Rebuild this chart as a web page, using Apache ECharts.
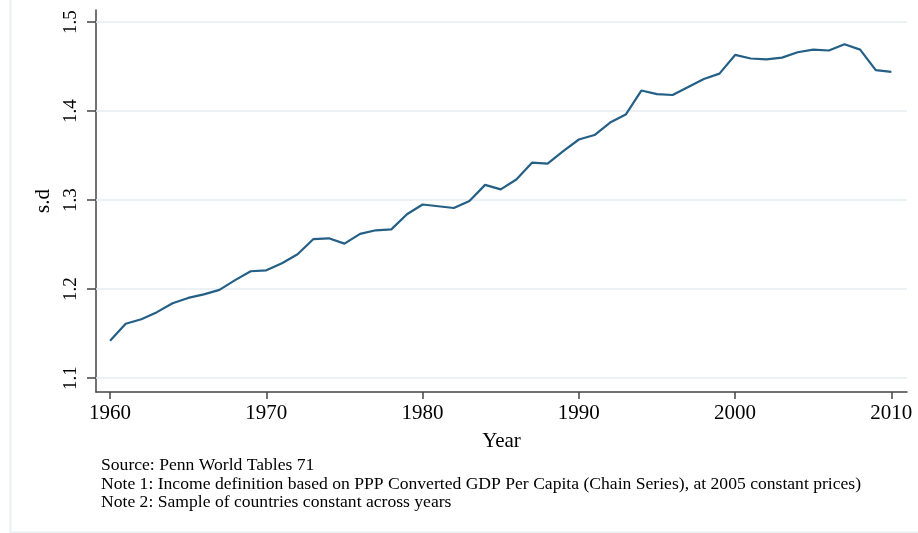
<!DOCTYPE html>
<html>
<head>
<meta charset="utf-8">
<script src="https://cdn.jsdelivr.net/npm/echarts@6/dist/echarts.min.js"></script>
<style>
  html, body { margin: 0; padding: 0; background: #fff; }
  #chart { width: 918px; height: 533px; }
</style>
</head>
<body>
<div id="chart"></div>
<script>
  // values
  var years = [1960, 1961, 1962, 1963, 1964, 1965, 1966, 1967, 1968, 1969,
    1970, 1971, 1972, 1973, 1974, 1975, 1976, 1977, 1978, 1979,
    1980, 1981, 1982, 1983, 1984, 1985, 1986, 1987, 1988, 1989,
    1990, 1991, 1992, 1993, 1994, 1995, 1996, 1997, 1998, 1999,
    2000, 2001, 2002, 2003, 2004, 2005, 2006, 2007, 2008, 2009, 2010];
  var sdValues = [1.142, 1.161, 1.166, 1.174, 1.184, 1.190, 1.194, 1.199, 1.210, 1.220,
    1.221, 1.229, 1.239, 1.256, 1.257, 1.251, 1.262, 1.266, 1.267, 1.284,
    1.295, 1.293, 1.291, 1.299, 1.317, 1.312, 1.323, 1.342, 1.341, 1.355,
    1.368, 1.373, 1.387, 1.396, 1.423, 1.419, 1.418, 1.427, 1.436, 1.442,
    1.463, 1.459, 1.458, 1.460, 1.466, 1.469, 1.468, 1.475, 1.469, 1.446, 1.444];
  var xTicks = [1960, 1970, 1980, 1990, 2000, 2010];
  var yTicks = [1.1, 1.2, 1.3, 1.4, 1.5];
  var notes = [
    'Source: Penn World Tables 71',
    'Note 1: Income definition based on PPP Converted GDP Per Capita (Chain Series), at 2005 constant prices)',
    'Note 2: Sample of countries constant across years'
  ];

  var serif = '"Liberation Serif", "DejaVu Serif", serif';
  var axisColor = '#444';

  var lineData = years.map(function (y, i) { return [y, sdValues[i]]; });

  // the source picture is a bit wider than tall, so the notes get a little horizontal stretch
  var noteTexts = notes.map(function (t, i) {
    return {
      type: 'text',
      x: 101,
      y: 458 + i * 18.5,
      scaleX: 1.1,
      style: { text: t, font: '16px ' + serif, fill: '#000' }
    };
  });

  var chart = echarts.init(document.getElementById('chart'));
  chart.setOption({
    animation: false,
    backgroundColor: '#fff',
    grid: { left: 96, right: 11, top: 10, bottom: 141 },
    xAxis: {
      type: 'value',
      min: 1959.1,
      max: 2011,
      name: 'Year',
      nameLocation: 'middle',
      nameGap: 39,
      nameTextStyle: { fontFamily: serif, fontSize: 21, color: '#000' },
      axisLine: { lineStyle: { color: axisColor, width: 1.5 } },
      axisTick: { customValues: xTicks, length: 7, lineStyle: { color: axisColor, width: 1.5 } },
      axisLabel: {
        customValues: xTicks,
        margin: 11,
        fontFamily: serif,
        fontSize: 21,
        color: '#000',
        formatter: function (v) { return String(v); }
      },
      splitLine: { show: false }
    },
    yAxis: {
      type: 'value',
      min: 1.0843,
      max: 1.5135,
      name: 's.d',
      nameLocation: 'middle',
      nameRotate: 90,
      nameGap: 38,
      nameTextStyle: { fontFamily: serif, fontSize: 21, color: '#000' },
      axisLine: { show: true, lineStyle: { color: axisColor, width: 1.5 } },
      axisTick: { show: true, customValues: yTicks, length: 9, lineStyle: { color: axisColor, width: 1.5 } },
      axisLabel: {
        customValues: yTicks,
        rotate: 90,
        margin: 15,
        fontFamily: serif,
        fontSize: 19,
        color: '#000',
        formatter: function (v) { return v.toFixed(1); }
      },
      splitLine: { show: false }
    },
    series: [{
      type: 'line',
      data: lineData,
      showSymbol: false,
      lineStyle: { color: '#245f86', width: 2.2 },
      z: 3,
      markLine: {
        silent: true,
        symbol: 'none',
        label: { show: false },
        lineStyle: { color: '#e5edf2', width: 1.5, type: 'solid' },
        data: yTicks.map(function (v) { return { yAxis: v }; }),
        z: 1
      }
    }],
    graphic: [{
      type: 'rect',
      left: 8,
      top: -4,
      shape: { width: 916, height: 534 },
      style: { fill: 'none', stroke: '#e8f0f3', lineWidth: 2 },
      silent: true
    }].concat(noteTexts)
  });
</script>
</body>
</html>
